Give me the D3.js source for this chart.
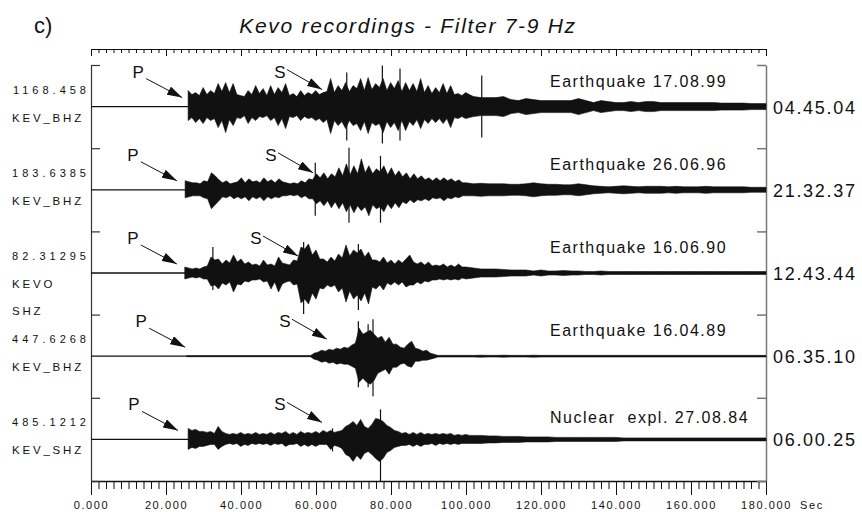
<!DOCTYPE html>
<html>
<head>
<meta charset="utf-8">
<script src="https://cdn.jsdelivr.net/npm/d3@7"></script>
<style>
  body { margin: 0; background: #fff; }
  svg { display: block; font-family: "Liberation Sans", Arial, Helvetica, sans-serif; }
</style>
</head>
<body>
<svg id="chart" width="862" height="512"></svg>
<script>
// ---- data ----
const scaleValues = ["1168.458", "183.6385", "82.31295", "447.6268", "485.1212"];
const stations = [["KEV_BHZ"], ["KEV_BHZ"], ["KEVO", "SHZ"], ["KEV_BHZ"], ["KEV_SHZ"]];
const events = ["Earthquake 17.08.99", "Earthquake 26.06.96", "Earthquake 16.06.90",
                "Earthquake 16.04.89", "Nuclear  expl. 27.08.84"];
const startTimes = ["04.45.04", "21.32.37", "12.43.44", "06.35.10", "06.00.25"];

// P and S picks (seconds)
const pPicks = [24.3, 22.9, 22.9, 25.1, 23.2];
const sPicks = [61.6, 59.2, 55.2, 62.9, 61.6];

// signal onset (s); head envelopes sampled every 1 s from the onset,
// tails every 2 s from 102 s to 180 s (symmetric)
const onsets = [25.9, 25.1, 25.0, 25.5, 25.9];

// upper / lower envelope, relative amplitude (+-41.6 fills a trace band)
const up1 = [16,12,14,11,19,12,16,13,23,15, 24,14,23,12,11,10,16,12,21,13, 18,11,21,12,19,14,23,11,13,10,
             16,11,14,12,16,12,14,15,28,14, 21,16,24,15,21,18,28,16,29,17, 23,19,28,16,24,18,26,15,24,16,
             23,15,28,14,21,13,19,14,23,13, 21,12,13,11,14,12];
const lo1 = [14,11,16,12,17,11,14,12,21,14, 26,13,19,11,12,9,17,11,14,10, 11,9,14,11,19,12,22,10,11,9,
             14,10,12,11,14,12,16,13,27,14, 19,15,22,14,19,17,24,15,27,16, 19,17,26,15,21,16,24,14,24,15,
             19,13,22,13,17,12,16,12,17,12, 21,11,12,10,12,11];
const tail1 = [10,9,9,9,10,7,6,8,7,6, 6,6,6,6,8,6,4,6,5,4, 4,5,4,5,5,4,4,4,4,4,
               4,4,4,3.5,3.5,3.5,3.5,3,3,3];

const up2 = [9,8,7,7,6,9,8,17,14,10, 7,9,6,7,8,12,7,11,8,9, 7,12,8,10,7,11,8,7,6,7,
             6,9,7,11,10,16,12,17,11,16, 13,22,14,26,15,24,16,31,17,24, 16,21,18,24,15,22,14,19,13,17,
             11,16,11,14,10,12,9,12,9,12, 9,11,8,10,7,7];
const lo2 = [8,7,6,6,6,8,9,19,15,11, 7,8,6,9,7,9,7,11,7,9, 7,11,7,9,7,8,6,6,5,6,
             5,8,6,9,9,14,11,16,11,18, 12,19,13,22,15,23,16,21,17,26, 15,19,17,22,14,19,13,18,12,14,
             10,13,10,11,9,11,8,9,8,11, 8,9,7,8,6,6];
const tail2 = [6,6.5,6,6,6,5.5,5.5,6,7,6, 5.5,5.5,5,5,6,5,4,3.5,3,3.5, 4,3.5,3,3.5,3.5,3.5,3,3.5,3,3,
               3,3.5,3,3,3,3,3,2.5,2.5,2.5];

const up3 = [6,5,4,5,4,6,7,16,13,14, 9,13,10,18,11,14,9,11,8,9, 7,13,8,9,7,16,10,9,8,13,
             12,26,24,29,18,23,14,14,11,16, 12,19,15,28,17,23,20,24,16,21, 13,13,11,16,10,13,9,13,10,14,
             18,11,9,11,8,11,7,8,7,9, 6,8,6,9,6,6];
const lo3 = [6,5,4,5,4,6,6,13,12,16, 10,12,9,19,11,12,8,9,7,7, 6,9,8,16,9,19,11,9,8,12,
             11,30,26,31,20,26,15,16,12,14, 12,19,15,29,18,26,22,28,20,31, 14,16,12,17,10,12,9,12,9,14,
             12,12,9,11,8,9,7,7,6,7, 6,7,6,7,5,6];
const tail3 = [5,4,4,4,3.5,3,3,3,2,3, 2,2,2.5,2,2,1.5,1.5,2,1.5,1.5, 1.5,1.5,1.5,1.5,1.5,1.5,1.5,1.5,1.5,1.5,
               1.5,1.5,1.5,1.5,1.5,1.5,1.5,1.5,1.5,1.5];

const up4 = [0.5,0.5,0.5,0.5,0.5,0.5,0.5,0.5,0.5,0.5, 0.5,0.5,0.5,0.5,0.5,0.5,0.5,0.5,0.5,0.5,
             0.5,0.5,0.5,0.5,0.5,0.5,0.5,0.5,0.5,0.5, 0.5,0.5,0.5,0.5,
             3,4,6,5,7,6,8,7,9,8, 11,13,28,22,24,26,22,18,20,14, 19,12,12,9,8,12,15,8,7,5, 6,3,2,
             0.8,0.8,0.8,0.8,0.8,0.8,0.8,0.8,0.8];
const lo4 = [0.5,0.5,0.5,0.5,0.5,0.5,0.5,0.5,0.5,0.5, 0.5,0.5,0.5,0.5,0.5,0.5,0.5,0.5,0.5,0.5,
             0.5,0.5,0.5,0.5,0.5,0.5,0.5,0.5,0.5,0.5, 0.5,0.5,0.5,0.5,
             3,4,6,5,7,6,8,7,8,8, 10,12,26,22,26,28,24,17,15,13, 18,11,11,8,7,10,11,5,5,4, 4,3,2,
             0.8,0.8,0.8,0.8,0.8,0.8,0.8,0.8,0.8];
const tail4 = [0.8,1,0.8,0.8,1,0.8,0.8,0.8,1,0.8, 0.8,0.8,0.8,0.8,0.8,0.8,0.8,0.8,0.8,0.8,
               0.8,0.8,0.8,0.8,0.8,0.8,0.8,0.8,0.8,0.8, 0.8,0.8,0.8,0.8,0.8,0.8,0.8,0.8,0.8,0.8];

const up5 = [11,9,10,8,8,7,8,6,13,8, 6,5,6,5,7,5,6,5,7,5, 6,5,7,5,7,6,8,5,7,5,
             8,6,7,6,8,6,9,7,9,7, 8,9,13,15,18,14,20,13,11,15, 21,20,18,14,12,9,8,6,7,5,
             7,5,7,5,6,5,6,5,6,5, 6,4,5,4,5,4];
const lo5 = [10,8,9,7,7,6,5,5,10,7, 5,4,5,4,7,5,6,4,5,4, 5,4,6,4,5,4,7,5,5,4,
             7,5,7,5,7,5,5,5,10,6, 7,9,15,17,22,16,20,14,12,15, 19,22,19,13,11,8,7,6,6,5,
             7,5,7,5,5,4,6,4,5,4, 5,4,5,4,4,4];
const tail5 = [4,4,3.5,3.5,3,3,3,2.5,2.5,2.5, 2.5,2,2,2,2,2,2,2,2,2,
               1.5,1.5,1.5,1.5,1.5,1.5,1.5,1.5,1.5,1.5, 1.5,1.5,1.5,1.5,1.5,1.5,1.5,1.5,1.5,1.5];

// single large swings: [time, up, down]
const spikes1 = [[68.2, 34, 34], [77.7, 41, 37], [82.4, 38, 34], [104.2, 31, 31]];
const spikes2 = [[59.8, 27, 26], [68.8, 42, 33], [77.2, 34, 33]];
const spikes3 = [[32.5, 26, 17], [56.7, 31, 41], [71.3, 29, 37]];
const spikes4 = [[71.3, 35, 31], [73.9, 32, 31], [75.2, 37, 40]];
const spikes5 = [[64.4, 11, 12], [77.2, 30, 42]];

const ups = [up1, up2, up3, up4, up5];
const los = [lo1, lo2, lo3, lo4, lo5];
const tails = [tail1, tail2, tail3, tail4, tail5];
const spikes = [spikes1, spikes2, spikes3, spikes4, spikes5];

const xTicksMajor = [0, 20, 40, 60, 80, 100, 120, 140, 160, 180];

// ---- drawing ----
const svg = d3.select("#chart");
const ink = "#111";

const x = d3.scaleLinear().domain([0, 180]).range([91, 766]);
const band = d3.scaleBand().domain(d3.range(5)).range([65, 481]).paddingInner(0);
const bw = band.bandwidth();
const amp = d3.scaleLinear().domain([-41.6, 41.6]).range([bw, 0]);

// title
svg.append("text").attr("x", 34).attr("y", 33)
    .attr("font-size", 22).attr("fill", ink).text("c)");
svg.append("text").attr("x", 408).attr("y", 33).attr("text-anchor", "middle")
    .attr("font-size", 21).attr("font-style", "italic").style("letter-spacing", "1.7px")
    .attr("fill", ink).text("Kevo recordings - Filter 7-9 Hz");

// top time axis (ticks only)
const minorTicks = d3.range(0, 181, 2);
const topAxis = svg.append("g").attr("transform", "translate(0,49)");
topAxis.append("g")
    .call(d3.axisBottom(x).tickValues(minorTicks).tickSize(4).tickSizeOuter(0).tickFormat(""));
topAxis.append("g")
    .call(d3.axisBottom(x).tickValues(xTicksMajor).tickSize(7).tickSizeOuter(0).tickFormat(""));
topAxis.selectAll("path, line").attr("stroke", ink);

// bottom time axis
const botAxis = svg.append("g").attr("transform", "translate(0,481)");
botAxis.append("g")
    .call(d3.axisBottom(x).tickValues(minorTicks).tickSize(8).tickSizeOuter(0).tickFormat(""));
botAxis.append("g")
    .call(d3.axisBottom(x).tickValues(xTicksMajor).tickSize(14).tickSizeOuter(0)
        .tickPadding(6).tickFormat(d3.format(".3f")));
botAxis.selectAll("path, line").attr("stroke", ink);
botAxis.selectAll("text").attr("font-size", 11).attr("fill", ink)
    .style("letter-spacing", "1.6px").attr("font-family", null);
botAxis.select("path.domain").attr("stroke-width", 1.5);
svg.append("text").attr("x", 800).attr("y", 509)
    .attr("font-size", 11).style("letter-spacing", "1.6px").attr("fill", ink).text("Sec");

// trace frame: left and right axes with band ticks
const bandEdge = d3.scaleLinear().domain([0, 5]).range([65, 481]);
svg.append("g").attr("transform", "translate(91,0)")
    .call(d3.axisRight(bandEdge).ticks(5).tickSize(9).tickSizeOuter(0).tickFormat(""))
    .selectAll("path, line").attr("stroke", "#333").attr("stroke-width", 1.2);
svg.append("g").attr("transform", "translate(766,0)")
    .call(d3.axisLeft(bandEdge).ticks(5).tickSize(9).tickSizeOuter(0).tickFormat(""))
    .selectAll("path, line").attr("stroke", "#777").attr("stroke-width", 1.5);

// arrow head
svg.append("defs").append("marker")
    .attr("id", "head").attr("markerUnits", "userSpaceOnUse")
    .attr("viewBox", "0 0 15 9").attr("markerWidth", 15).attr("markerHeight", 9)
    .attr("refX", 15).attr("refY", 4.5).attr("orient", "auto")
    .append("path").attr("d", "M0,0L15,4.5L0,9Z").attr("fill", ink);

const area = d3.area()
    .x(d => x(d.t))
    .y0(d => amp(-d.lo))
    .y1(d => amp(d.up));

const tailTimes = d3.range(102, 181, 2);

d3.range(5).forEach(i => {
    const g = svg.append("g").attr("transform", `translate(0,${band(i)})`);
    const b = amp(0);

    // flat trace line
    g.append("line")
        .attr("x1", x(0)).attr("x2", x(180))
        .attr("y1", b).attr("y2", b)
        .attr("stroke", ink).attr("stroke-width", 1.3);

    // envelope
    const head = ups[i].map((u, j) => ({ t: onsets[i] + j, up: u, lo: los[i][j] }));
    const tail = tails[i].map((v, j) => ({ t: tailTimes[j], up: v, lo: v }));
    g.append("path").datum(head.concat(tail))
        .attr("d", area)
        .attr("fill", ink).attr("stroke", ink).attr("stroke-width", 0.6);

    // big single swings
    g.selectAll("line.spike").data(spikes[i]).join("line")
        .attr("class", "spike")
        .attr("x1", d => x(d[0])).attr("x2", d => x(d[0]))
        .attr("y1", d => amp(d[1])).attr("y2", d => amp(-d[2]))
        .attr("stroke", ink).attr("stroke-width", 1.2);

    // left labels
    g.append("text").attr("x", 90).attr("y", b - 13).attr("text-anchor", "end")
        .attr("font-size", 11).style("letter-spacing", "4px").attr("fill", ink)
        .text(scaleValues[i]);
    stations[i].forEach((s, k) => {
        g.append("text").attr("x", 12).attr("y", b + 15 + k * 27)
            .attr("font-size", 11.5).style("letter-spacing", "2.8px").attr("fill", ink)
            .text(s);
    });

    // event name and start time
    g.append("text").attr("x", 550).attr("y", b - (i === 4 ? 16 : 20))
        .attr("font-size", 16).style("letter-spacing", "1.5px").style("white-space", "pre")
        .attr("fill", ink).text(events[i]);
    g.append("text").attr("x", 773).attr("y", b + 7)
        .attr("font-size", 18).style("letter-spacing", "1.7px").attr("fill", ink)
        .text(startTimes[i]);

    // P and S arrows
    const px = x(pPicks[i]);
    g.append("text").attr("x", px - 44).attr("y", b - 29).attr("text-anchor", "middle")
        .attr("font-size", 17).attr("fill", ink).text("P");
    g.append("line").attr("x1", px - 36).attr("y1", b - 28).attr("x2", px).attr("y2", b - 9)
        .attr("stroke", ink).attr("stroke-width", 1).attr("marker-end", "url(#head)");
    const sx = x(sPicks[i]);
    g.append("text").attr("x", sx - 42).attr("y", b - 29).attr("text-anchor", "middle")
        .attr("font-size", 17).attr("fill", ink).text("S");
    g.append("line").attr("x1", sx - 35).attr("y1", b - 37).attr("x2", sx).attr("y2", b - 17)
        .attr("stroke", ink).attr("stroke-width", 1).attr("marker-end", "url(#head)");
});
</script>
</body>
</html>
